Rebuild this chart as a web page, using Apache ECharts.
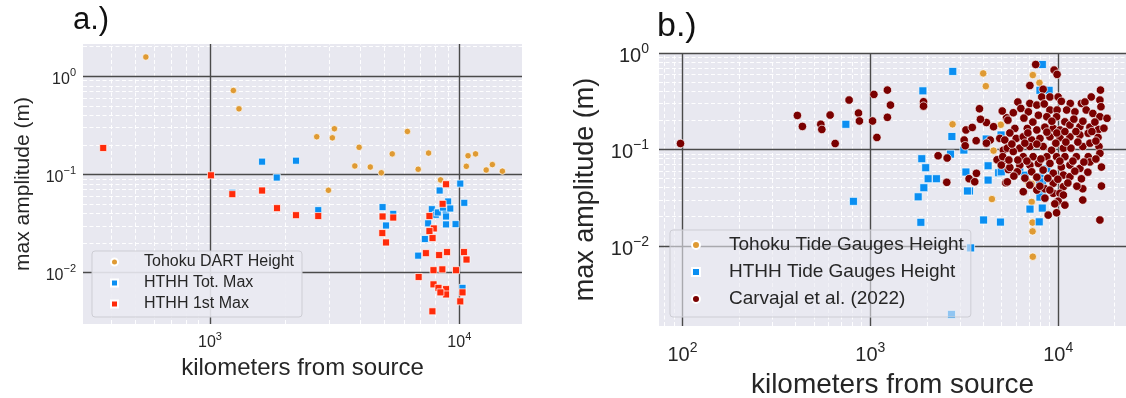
<!DOCTYPE html>
<html>
<head>
<meta charset="utf-8">
<script src="https://cdn.jsdelivr.net/npm/echarts@6/dist/echarts.min.js"></script>
<style>
  html, body { margin: 0; padding: 0; background: #ffffff; }
  #chart { width: 1126px; height: 398px; }
</style>
</head>
<body>
<div id="chart"></div>
<script>
// ---- Panel a: Tohoku DART vs HTHH amplitudes, [distance km, amplitude m] ----
const tohokuDart = [
  [553, 1.57], [1241, 0.716], [1307, 0.466], [2680, 0.242], [3155, 0.292], [3097, 0.236],
  [3965, 0.189], [3810, 0.122], [4395, 0.119], [4866, 0.104], [5383, 0.162], [6194, 0.274],
  [6839, 0.113], [7530, 0.165], [8411, 0.088], [10840, 0.155], [11620, 0.162], [10670, 0.121],
  [12820, 0.111], [13570, 0.126], [14890, 0.108], [2986, 0.069]
];
const hthhTotMax = [
  [1618, 0.135], [1853, 0.093], [1229, 0.065], [2213, 0.138], [10090, 0.0807], [8340, 0.0686],
  [2718, 0.0433], [4923, 0.0465], [5433, 0.0397], [5081, 0.0302], [10470, 0.0514], [9020, 0.053],
  [7760, 0.0443], [8820, 0.0429], [8050, 0.0388], [8847, 0.0373], [8847, 0.031], [9663, 0.0312],
  [7500, 0.0318], [7276, 0.022], [6839, 0.0149], [10300, 0.0070], [8200, 0.041], [8600, 0.046],
  [9200, 0.045]
];
const hthhFirstMax = [
  [373, 0.186], [1009, 0.098], [1229, 0.063], [1618, 0.0686], [1857, 0.0454], [2213, 0.0385],
  [2718, 0.0377], [4923, 0.0373], [5433, 0.0364], [4911, 0.0253], [5081, 0.0203], [8847, 0.0795],
  [8572, 0.0502], [7590, 0.0377], [7904, 0.0282], [7590, 0.0265], [7810, 0.0225], [7346, 0.0158],
  [8300, 0.0151], [8930, 0.0162], [10440, 0.0162], [10690, 0.0136], [7880, 0.0106], [8550, 0.0108],
  [9700, 0.0106], [6870, 0.00904], [7880, 0.0076], [8250, 0.0070], [8847, 0.0068], [8847, 0.0060],
  [8400, 0.0063], [10300, 0.0063], [10090, 0.0051], [7800, 0.00404]
];

// ---- Panel b: tide gauges, [distance km, amplitude m] ----
const tohokuTide = [
  [2740, 0.182], [3990, 0.614], [4120, 0.453], [4950, 0.18], [4530, 0.097], [4440, 0.0305],
  [7330, 0.59], [7950, 0.49], [7230, 0.0285], [7310, 0.0174], [7310, 0.0141], [7330, 0.0077],
  [7230, 0.044], [6900, 0.046]
];
const hthhTide = [
  [741, 0.182], [813, 0.0289], [1905, 0.405], [2748, 0.644], [2718, 0.136], [1879, 0.080],
  [1972, 0.0645], [2032, 0.0496], [2249, 0.0496], [1927, 0.040], [1798, 0.0322], [1858, 0.0175],
  [2672, 0.0893], [3148, 0.0984], [3228, 0.0582], [4237, 0.0676], [4237, 0.048], [3373, 0.037],
  [3290, 0.037], [4820, 0.0572], [4140, 0.128], [4966, 0.141], [4009, 0.0185], [4929, 0.0176],
  [3420, 0.0095], [2704, 0.00194], [7080, 0.024], [8230, 0.0246], [7930, 0.0177], [8240, 0.76],
  [8950, 0.41], [8000, 0.41], [4980, 0.0585], [6250, 0.0585], [6650, 0.054], [8000, 0.052],
  [8240, 0.044], [8240, 0.0345], [8700, 0.063], [8000, 0.032], [8000, 0.046], [8320, 0.061]
];
const carvajal = [
  [97.6, 0.115], [409, 0.225], [435, 0.173], [545, 0.182], [552, 0.161], [611, 0.227], [650, 0.115],
  [771, 0.325], [865, 0.238], [875, 0.197], [1045, 0.372], [1028, 0.197], [1084, 0.133], [1233, 0.412],
  [1280, 0.288], [1233, 0.215], [1920, 0.312], [1920, 0.281], [2296, 0.0859], [2565, 0.0813], [2553, 0.0455],
  [3230, 0.159], [3160, 0.125], [3200, 0.109], [3490, 0.169], [3660, 0.123], [4150, 0.19], [4530, 0.172],
  [4350, 0.125], [4150, 0.116], [3811, 0.264], [3857, 0.205], [3357, 0.0496], [3673, 0.0564], [3597, 0.0461],
  [4890, 0.13], [5110, 0.098], [5150, 0.077], [5260, 0.045], [4730, 0.078], [5430, 0.0617], [5310, 0.213],
  [7590, 0.76], [9520, 0.665], [9870, 0.60], [7070, 0.46], [8320, 0.42], [16800, 0.412], [15000, 0.35],
  [8180, 0.35], [9040, 0.35], [10000, 0.35], [6100, 0.31], [7070, 0.30], [7700, 0.288], [10400, 0.315],
  [11600, 0.30], [13300, 0.30], [13880, 0.31], [16680, 0.325], [16900, 0.277], [5040, 0.25], [5770, 0.24],
  [6330, 0.266], [6940, 0.245], [8430, 0.296], [9040, 0.256], [9870, 0.256], [11100, 0.256], [12280, 0.245],
  [14100, 0.256], [15300, 0.236], [16680, 0.218], [18200, 0.21], [7850, 0.226], [8700, 0.218], [9810, 0.218],
  [10860, 0.193], [5880, 0.165], [6850, 0.165], [7700, 0.159], [8500, 0.17], [9420, 0.165], [10220, 0.159],
  [11550, 0.179], [13050, 0.172], [14760, 0.17], [16400, 0.161], [5200, 0.125], [5980, 0.13], [6520, 0.135],
  [7230, 0.125], [8000, 0.13], [9040, 0.135], [10220, 0.132], [11550, 0.135], [13050, 0.141], [14460, 0.147],
  [16300, 0.133], [5360, 0.103], [6250, 0.103], [7070, 0.107], [8320, 0.107], [9220, 0.098], [10660, 0.103],
  [11700, 0.103], [13520, 0.107], [14760, 0.116], [16500, 0.107], [5070, 0.084], [5770, 0.095], [6520, 0.084],
  [7360, 0.084], [8700, 0.084], [9810, 0.084], [10860, 0.084], [12500, 0.084], [14460, 0.084], [16680, 0.091],
  [4980, 0.0687], [5530, 0.065], [6250, 0.0687], [7070, 0.0687], [7850, 0.0715], [9040, 0.0715], [10400, 0.0655],
  [11550, 0.0687], [13050, 0.0635], [14760, 0.074], [17000, 0.0655], [5360, 0.046], [6060, 0.0585], [7230, 0.0585],
  [8320, 0.061], [9420, 0.0565], [10660, 0.0541], [11550, 0.052], [13300, 0.0495], [6520, 0.0364], [7700, 0.0378],
  [8500, 0.039], [9420, 0.0445], [10660, 0.041], [13520, 0.039], [17000, 0.0416], [9420, 0.035], [10220, 0.035],
  [10660, 0.0336], [10000, 0.029], [13520, 0.0298], [8850, 0.0208], [9810, 0.022], [16680, 0.0185],
  [5400, 0.201], [6570, 0.211], [7335, 0.192], [9260, 0.196], [12120, 0.206], [13540, 0.196], [15690, 0.192],
  [5530, 0.148], [6900, 0.148], [8710, 0.151], [9840, 0.148], [10860, 0.153], [12430, 0.153], [15120, 0.153],
  [17520, 0.166], [5670, 0.1135], [6650, 0.116], [7700, 0.1135], [9720, 0.116], [10990, 0.119], [12730, 0.119],
  [15880, 0.122], [5465, 0.0775], [6100, 0.0775], [6815, 0.0756], [8090, 0.0795], [10210, 0.0756], [11980, 0.0756],
  [13710, 0.0738], [15880, 0.0795], [5810, 0.0528], [6650, 0.0503], [7700, 0.0515], [8810, 0.0503], [9960, 0.049],
  [12270, 0.0594], [14390, 0.058], [7070, 0.0426], [7990, 0.0415], [9030, 0.0378], [11260, 0.0448], [12580, 0.0415],
  [8500, 0.0312], [9600, 0.0272], [10860, 0.0264]
];

// ---- Axis ranges and labelled decades ----
const aXRange = [309.5, 17844];
const aYRange = [0.0030, 2.13];
const bXRange = [75, 22970];
const bYRange = [0.00147, 1];
const aXTicks = [1000, 10000];
const aYTicks = [0.01, 0.1, 1];
const bXTicks = [100, 1000, 10000];
const bYTicks = [0.01, 0.1, 1];

const FONT = '"Liberation Sans", Arial, Helvetica, sans-serif';
const ORANGE = '#df9a33';
const BLUE = '#0a8ff2';
const RED = '#ff2b0a';
const MAROON = '#7a0000';
const TEXT = '#262626';

// "10" with the exponent as a superscript
function powerLabel(v) {
  const e = Math.round(Math.log10(v));
  return '{b|10}{s|' + (e < 0 ? '\u2212' + (-e) : String(e)) + '}';
}
function powerRich(base, sup, raise) {
  return {
    b: { fontSize: base, fontFamily: FONT, color: TEXT, lineHeight: base + 2, padding: [raise, 0, 0, 0] },
    s: { fontSize: sup, fontFamily: FONT, color: TEXT, lineHeight: sup + 2, verticalAlign: 'top' }
  };
}

// values 2..9 x 10^k strictly inside a range, for the dashed minor grid
function minorValues(range) {
  const out = [];
  const lo = Math.floor(Math.log10(range[0]));
  const hi = Math.ceil(Math.log10(range[1]));
  for (let e = lo; e <= hi; e++) {
    for (let k = 2; k <= 9; k++) {
      const v = +(k * Math.pow(10, e)).toPrecision(3);
      if (v > range[0] && v < range[1]) out.push(v);
    }
  }
  return out;
}

const minorStyle = { color: '#ffffff', width: 1, type: [4, 2.5], opacity: 0.95 };
const majorStyle = { color: '#4a4a4a', width: 1.4, type: 'solid' };

function gridLineSeries(idx, xRange, yRange, xMajor, yMajor) {
  const data = [];
  minorValues(xRange).forEach(v => data.push({ xAxis: v, lineStyle: minorStyle }));
  minorValues(yRange).forEach(v => data.push({ yAxis: v, lineStyle: minorStyle }));
  xMajor.forEach(v => data.push({ xAxis: v, lineStyle: majorStyle }));
  yMajor.forEach(v => data.push({ yAxis: v, lineStyle: majorStyle }));
  return {
    type: 'scatter', xAxisIndex: idx, yAxisIndex: idx, data: [], silent: true, z: 1,
    markLine: {
      z: 1, silent: true, animation: false, symbol: ['none', 'none'], label: { show: false },
      emphasis: { disabled: true }, data: data
    }
  };
}

function logAxis(idx, range, ticks, labelSize, supSize, raise, margin, name, nameSize, nameGap, isY) {
  return {
    gridIndex: idx, type: 'log', logBase: 10, min: range[0], max: range[1],
    axisLine: { show: false }, axisTick: { show: false }, splitLine: { show: false },
    minorTick: { show: false }, minorSplitLine: { show: false },
    axisLabel: {
      customValues: ticks, formatter: powerLabel, margin: margin,
      rich: powerRich(labelSize, supSize, raise)
    },
    name: name, nameLocation: 'middle', nameGap: nameGap,
    nameRotate: isY ? 90 : 0,
    nameTextStyle: { fontSize: nameSize, fontFamily: FONT, color: TEXT }
  };
}

function scatter(name, idx, data, symbol, size, color, z) {
  return {
    name: name, type: 'scatter', xAxisIndex: idx, yAxisIndex: idx, data: data,
    symbol: symbol, symbolSize: size, z: z,
    itemStyle: { color: color, borderColor: '#ffffff', borderWidth: 0.7, opacity: 1 },
    emphasis: { disabled: true }
  };
}

const chart = echarts.init(document.getElementById('chart'), null, { renderer: 'canvas' });
chart.setOption({
  animation: false,
  backgroundColor: '#ffffff',
  title: [
    { text: 'a.)', left: 73, top: 5, padding: 0,
      textStyle: { fontSize: 31, fontWeight: 'normal', color: '#111', fontFamily: FONT } },
    { text: 'b.)', left: 657, top: 10, padding: 0,
      textStyle: { fontSize: 34, fontWeight: 'normal', color: '#111', fontFamily: FONT } }
  ],
  grid: [
    { left: 83, top: 44, width: 439, height: 280, outerBoundsMode: 'none', containLabel: false,
      show: true, backgroundColor: '#e8e8f0', borderWidth: 0 },
    { left: 659, top: 53, width: 467, height: 273, outerBoundsMode: 'none', containLabel: false,
      show: true, backgroundColor: '#e8e8f0', borderWidth: 0 }
  ],
  xAxis: [
    logAxis(0, aXRange, aXTicks, 16, 11, 6, 7, 'kilometers from source', 24, 29, false),
    logAxis(1, bXRange, bXTicks, 20, 14, 7, 15, 'kilometers from source', 28, 45, false)
  ],
  yAxis: [
    logAxis(0, aYRange, aYTicks, 16, 11, 6, 7, 'max amplitude (m)', 21, 49, true),
    logAxis(1, bYRange, bYTicks, 20, 14, 7, 10, 'max amplitude (m)', 27, 60, true)
  ],
  legend: [
    {
      left: 92, top: 251, orient: 'vertical', selectedMode: false, z: 10,
      data: ['Tohoku DART Height', 'HTHH Tot. Max', 'HTHH 1st Max'],
      itemWidth: 7, itemHeight: 7, itemGap: 5, padding: [3, 8, 5, 18],
      backgroundColor: 'rgba(234,234,242,0.9)', borderColor: '#cdcdd4', borderWidth: 1, borderRadius: 3,
      textStyle: { fontSize: 16, lineHeight: 16, fontFamily: FONT, color: TEXT, padding: [0, 0, 0, 21] }
    },
    {
      left: 670, top: 230, orient: 'vertical', selectedMode: false, z: 10,
      data: ['Tohoku Tide Gauges Height', 'HTHH Tide Gauges Height', 'Carvajal et al. (2022)'],
      itemWidth: 8, itemHeight: 8, itemGap: 7, padding: [5, 7, 8, 21],
      backgroundColor: 'rgba(234,234,242,0.6)', borderColor: '#cdcdd4', borderWidth: 1, borderRadius: 3,
      textStyle: { fontSize: 19, lineHeight: 20, fontFamily: FONT, color: TEXT, padding: [0, 0, 0, 24] }
    }
  ],
  series: [
    gridLineSeries(0, aXRange, aYRange, aXTicks, aYTicks),
    gridLineSeries(1, bXRange, bYRange, bXTicks, bYTicks),
    scatter('Tohoku DART Height', 0, tohokuDart, 'circle', 6.5, ORANGE, 3),
    scatter('HTHH Tot. Max', 0, hthhTotMax, 'rect', 7, BLUE, 4),
    scatter('HTHH 1st Max', 0, hthhFirstMax, 'rect', 7, RED, 5),
    scatter('Tohoku Tide Gauges Height', 1, tohokuTide, 'circle', 7.5, ORANGE, 3),
    scatter('HTHH Tide Gauges Height', 1, hthhTide, 'rect', 8, BLUE, 4),
    scatter('Carvajal et al. (2022)', 1, carvajal, 'circle', 8.5, MAROON, 5)
  ]
});
</script>
</body>
</html>
